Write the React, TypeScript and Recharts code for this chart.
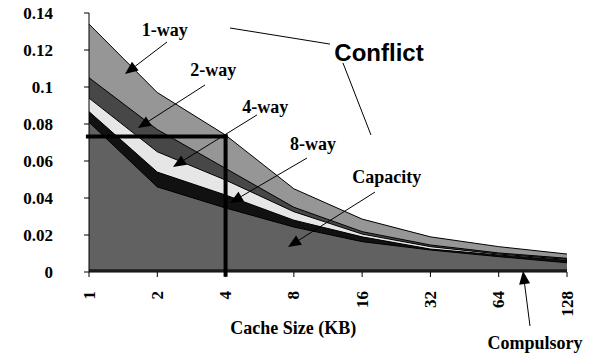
import React from 'react';
import { AreaChart, Area, XAxis, YAxis, ReferenceLine, ReferenceDot } from 'recharts';

// cache size (KB) and cumulative miss rate per associativity
const cacheSizes = [1, 2, 4, 8, 16, 32, 64, 128];
const oneWay = [0.134, 0.097, 0.074, 0.045, 0.0286, 0.019, 0.0137, 0.0097];
const twoWay = [0.105, 0.077, 0.056, 0.035, 0.0218, 0.0146, 0.0103, 0.0074];
const fourWay = [0.094, 0.065, 0.0497, 0.0326, 0.0205, 0.0137, 0.0097, 0.0068];
const eightWay = [0.0867, 0.054, 0.0416, 0.028, 0.019, 0.0124, 0.0092, 0.0063];
const capacity = [0.081, 0.046, 0.0346, 0.0243, 0.0164, 0.0119, 0.0083, 0.005];
const compulsory = [0.0011, 0.0011, 0.0011, 0.0011, 0.0011, 0.0011, 0.0011, 0.0011];
const yTicks = [0, 0.02, 0.04, 0.06, 0.08, 0.1, 0.12, 0.14];

// labels and pointers, in data units (x = log2 of size)
const labels = [
  { text: '1-way', x: 1.11, y: 0.1308 },
  { text: '2-way', x: 1.82, y: 0.1092 },
  { text: '4-way', x: 2.58, y: 0.0892 },
  { text: '8-way', x: 3.28, y: 0.0692 },
  { text: 'Capacity', x: 4.36, y: 0.0514 },
  { text: 'Compulsory', x: 6.53, y: -0.0384 },
  { text: 'Cache Size (KB)', x: 2.99, y: -0.0303 },
];
const arrows = [
  { from: [1.142, 0.1243], to: [0.527, 0.107] },
  { from: [1.699, 0.1011], to: [0.717, 0.0778] },
  { from: [2.46, 0.0849], to: [1.23, 0.0568] },
  { from: [3.192, 0.0616], to: [2.065, 0.0373] },
  { from: [4.188, 0.0432], to: [2.914, 0.0135] },
  { from: [6.458, -0.0292], to: [6.355, 0.0005] },
];
const conflictLines = [
  { from: [2.065, 0.1319], to: [3.529, 0.1232] },
  { from: [3.719, 0.113], to: [4.129, 0.0741] },
];
const markLevel = 0.0732;
const markPos = 2;

const data = cacheSizes.map((size, i) => ({
  pos: i,
  size,
  oneWay: oneWay[i],
  twoWay: twoWay[i],
  fourWay: fourWay[i],
  eightWay: eightWay[i],
  capacity: capacity[i],
  compulsory: compulsory[i],
}));

const serif = "'Liberation Serif', 'Times New Roman', serif";

const XTick = (props: any) => {
  const { x, y, payload } = props;
  return (
    <text
      x={x}
      y={y}
      transform={`rotate(-90 ${x} ${y})`}
      textAnchor="end"
      dominantBaseline="central"
      fontFamily={serif}
      fontWeight="bold"
      fontSize={17}
      fill="#000"
    >
      {cacheSizes[payload.value]}
    </text>
  );
};

const arrowShape = (head: boolean) => (p: any) => {
  const { x1, y1, x2, y2 } = p;
  const dx = x2 - x1;
  const dy = y2 - y1;
  const len = Math.hypot(dx, dy) || 1;
  const ux = dx / len;
  const uy = dy / len;
  const L = 13;
  const W = 5.5;
  const bx = x2 - ux * L;
  const by = y2 - uy * L;
  return (
    <g>
      <line x1={x1} y1={y1} x2={head ? bx : x2} y2={head ? by : y2} stroke="#000" strokeWidth={1} />
      {head && (
        <polygon
          points={`${x2},${y2} ${bx - uy * W},${by + ux * W} ${bx + uy * W},${by - ux * W}`}
          fill="#000"
        />
      )}
    </g>
  );
};

const textShape = (text: string, sans = false) => (p: any) => (
  <text
    x={p.cx}
    y={p.cy}
    textAnchor="middle"
    dominantBaseline="central"
    fontFamily={sans ? "'Liberation Sans', Arial, sans-serif" : serif}
    fontWeight="bold"
    fontSize={sans ? 24 : 18}
    fill="#000"
  >
    {text}
  </text>
);

export default function App() {
  return (
    <div style={{ position: 'absolute', left: 0, top: 0, background: '#fff' }}>
      <AreaChart width={591} height={362} data={data} margin={{ top: 13, right: 24, bottom: 0, left: 0 }}>
        <XAxis
          dataKey="pos"
          type="number"
          domain={[0, 7]}
          ticks={[0, 1, 2, 3, 4, 5, 6, 7]}
          interval={0}
          height={90}
          tick={<XTick />}
          tickSize={5}
          tickMargin={14}
          axisLine={{ stroke: '#000' }}
          tickLine={{ stroke: '#000' }}
        />
        <YAxis
          domain={[0, 0.14]}
          ticks={yTicks}
          interval={0}
          width={89}
          tickSize={5}
          tickMargin={31}
          axisLine={{ stroke: '#000' }}
          tickLine={{ stroke: '#000' }}
          tick={{ fill: '#000', fontFamily: serif, fontWeight: 'bold', fontSize: 17 }}
        />
        <Area type="linear" dataKey="oneWay" stroke="#000" strokeWidth={1} fill="#969696" fillOpacity={1} isAnimationActive={false} />
        <Area type="linear" dataKey="twoWay" stroke="#000" strokeWidth={1} fill="#474747" fillOpacity={1} isAnimationActive={false} />
        <Area type="linear" dataKey="fourWay" stroke="#000" strokeWidth={1} fill="#e6e6e6" fillOpacity={1} isAnimationActive={false} />
        <Area type="linear" dataKey="eightWay" stroke="#000" strokeWidth={1} fill="#111111" fillOpacity={1} isAnimationActive={false} />
        <Area type="linear" dataKey="capacity" stroke="#000" strokeWidth={1} fill="#616161" fillOpacity={1} isAnimationActive={false} />
        <Area type="linear" dataKey="compulsory" stroke="#000" strokeWidth={1} fill="#333333" fillOpacity={1} isAnimationActive={false} />

        <ReferenceLine
          segment={[{ x: -0.045, y: markLevel }, { x: markPos + 0.03, y: markLevel }]}
          stroke="#000"
          strokeWidth={4}
          ifOverflow="visible"
        />
        <ReferenceLine
          segment={[{ x: markPos, y: markLevel + 0.0012 }, { x: markPos, y: -0.0025 }]}
          stroke="#000"
          strokeWidth={4}
          ifOverflow="visible"
        />

        {arrows.map((a, i) => (
          <ReferenceLine
            key={`a${i}`}
            segment={[{ x: a.from[0], y: a.from[1] }, { x: a.to[0], y: a.to[1] }]}
            ifOverflow="visible"
            shape={arrowShape(true)}
          />
        ))}
        {conflictLines.map((a, i) => (
          <ReferenceLine
            key={`c${i}`}
            segment={[{ x: a.from[0], y: a.from[1] }, { x: a.to[0], y: a.to[1] }]}
            ifOverflow="visible"
            shape={arrowShape(false)}
          />
        ))}
        {labels.map((l) => (
          <ReferenceDot key={l.text} x={l.x} y={l.y} r={0} ifOverflow="visible" shape={textShape(l.text)} />
        ))}
        <ReferenceDot x={4.247} y={0.1189} r={0} ifOverflow="visible" shape={textShape('Conflict', true)} />
      </AreaChart>
    </div>
  );
}
